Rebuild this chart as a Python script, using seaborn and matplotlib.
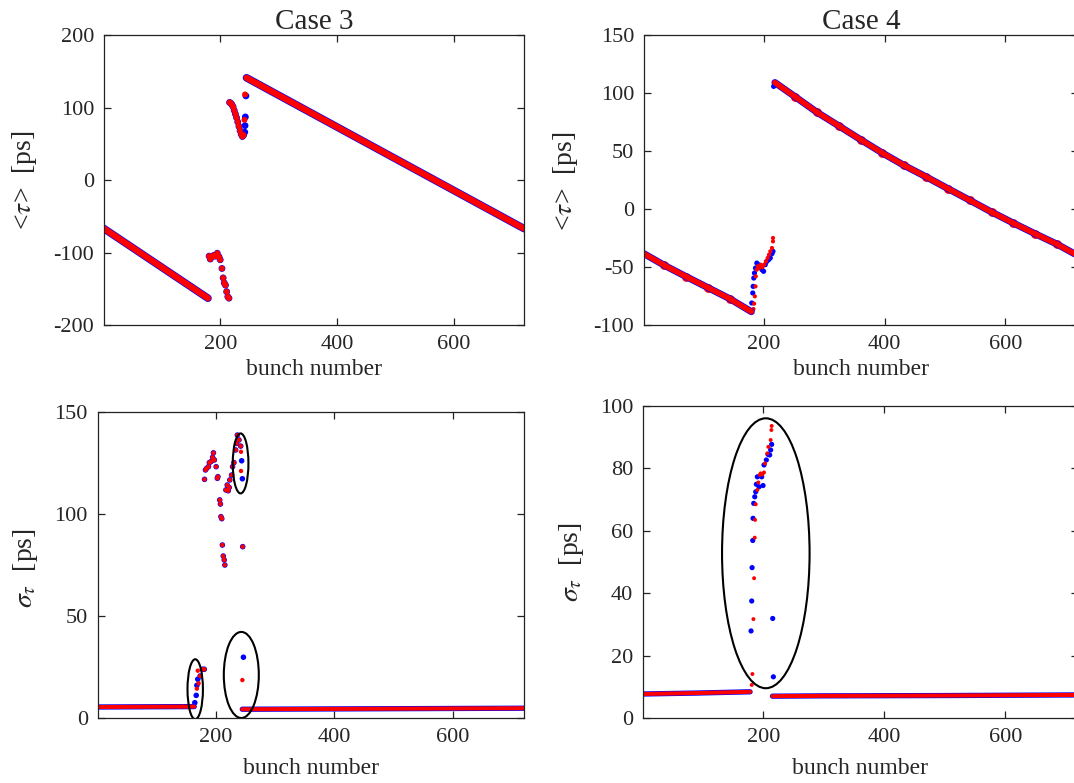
import numpy as np
import pandas as pd
import matplotlib
matplotlib.use("Agg")
import matplotlib.pyplot as plt
from matplotlib.patches import Ellipse
import seaborn as sns

# ---------------- data ----------------
# Case 3, mean bunch position <tau> [ps]
c3_tau_trainA_x = [1, 179]
c3_tau_trainA_blue = [-67, -163]
c3_tau_trainA_red = [-67, -163]
c3_tau_trainB_x = [245, 720]
c3_tau_trainB_blue = [141, -67]
c3_tau_trainB_red = [141, -67]
c3_tau_blue_x = [181, 183, 186, 189, 192, 195, 198, 200, 203, 205, 207, 209, 211, 213, 215,
                 216, 218, 220, 222, 224, 226, 228, 230, 232, 234, 236, 238, 240, 242, 242.5, 243, 244]
c3_tau_blue_y = [-105, -109, -106, -104, -105, -101, -106, -110, -122, -135, -142, -145, -154, -161, -163,
                 107, 106, 104, 101, 96, 91, 86, 80, 74, 68, 63, 60, 62, 66, 75, 87, 116]
c3_tau_red_x = [181, 183, 186, 189, 192, 195, 198, 200, 203, 205, 207, 209, 211, 213, 215,
                216, 218, 220, 222, 224, 226, 228, 230, 232, 234, 236, 238, 240, 241.5, 242.5]
c3_tau_red_y = [-105, -109, -106, -104, -105, -101, -106, -110, -122, -135, -142, -145, -154, -161, -163,
                107, 106, 104, 101, 96, 91, 86, 80, 74, 68, 63, 60, 62, 83, 118]

# Case 4, mean bunch position <tau> [ps]
c4_tau_trainA_x = [1, 35, 71, 107, 143, 179]
c4_tau_trainA_blue = [-38.5, -48.6, -58.3, -67.8, -77.3, -88.5]
c4_tau_trainA_red = [-38.5, -48.6, -58.3, -67.8, -77.3, -88.5]
c4_tau_trainB_x = [218, 252, 288, 325, 360, 396, 432, 469, 505, 541, 577, 613, 649, 685, 720]
c4_tau_trainB_blue = [109, 96.6, 83.3, 71.3, 59.8, 48.3, 37.6, 27.6, 17.5, 7.5, -2.6, -12.1, -21.3, -30.2, -40.2]
c4_tau_trainB_red = [109, 96.6, 83.3, 71.3, 59.8, 48.3, 37.6, 27.6, 17.5, 7.5, -2.6, -12.1, -21.3, -30.2, -40.2]
c4_tau_blue_x = [179.6, 181.3, 181.9, 183, 184.1, 185.8, 188, 190.8, 193.6, 196.4, 199.2, 202, 204.7,
                 207.5, 210.3, 213.1, 214.8, 215.9]
c4_tau_blue_y = [-81, -72.4, -66.7, -59.5, -55.2, -50.9, -46.6, -48, -49.4, -52.3, -53.7, -48, -45.1,
                 -43.7, -42.2, -38.5, -36.5, 105.7]
c4_tau_red_x = [182.4, 183.5, 184.7, 185.8, 186.3, 188, 189.7, 191.9, 194.7, 197.5, 200.3, 203.1, 205.9,
                208.1, 210.3, 213.1, 214.8, 214.8]
c4_tau_red_y = [-86.2, -81.6, -75.3, -66.7, -58, -52.3, -49.4, -50.9, -48, -50, -48, -45.1, -42.2,
                -39.4, -36.5, -33.6, -27.9, -25]

# Case 3, bunch length sigma_tau [ps]
c3_sig_trainA_x = [1, 164]
c3_sig_trainA_blue = [5.4, 5.6]
c3_sig_trainA_red = [5.4, 5.6]
c3_sig_trainB_x = [245, 720]
c3_sig_trainB_blue = [4.3, 4.8]
c3_sig_trainB_red = [4.3, 4.8]
c3_sig_blue_x = [165, 167.4, 168.5, 170, 174, 178, 181,
                 181.4, 183, 185, 188, 189.5, 192.4, 195, 196.4, 198, 201, 203, 204, 207, 208.2, 209,
                 210.5, 211.5, 213, 214.6, 215.7, 217.4, 219.6, 221.3, 223, 224, 227, 228.7, 231,
                 233.8, 235.5, 236.7, 239.5, 242.4, 244, 245.2, 245.8, 247]
c3_sig_blue_y = [7.5, 11.1, 16.0, 19.0, 20.6, 23.9, 23.9,
                 117.0, 121.6, 122.4, 123.2, 125.2, 125.7, 127.8, 130, 126.5, 123.2, 117.5, 118.3,
                 106.9, 104.9, 98.7, 97.7, 84.8, 79.4, 77.5, 75, 111.8, 114.2, 111.4, 113, 116.7,
                 119.1, 123.2, 125.2, 131.4, 134.6, 138.7, 136.3, 133.3, 126.1, 117.3, 84, 29.8]
c3_sig_red_x = [168.5, 170, 171.4, 174, 178, 181,
                181.4, 183, 185, 188, 189.5, 192.4, 195, 196.4, 198, 201, 203, 204, 207, 208.2, 209,
                210.5, 211.5, 213, 214.6, 215.7, 217.4, 219.6, 221.3, 223, 224, 227, 228.7, 231,
                233.8, 235.5, 236.7, 239.5, 242.4, 242.9, 242.9, 245.8, 245.2]
c3_sig_red_y = [14.4, 23.2, 17, 20.6, 23.9, 23.9,
                117.0, 121.6, 122.4, 123.2, 125.2, 125.7, 127.8, 130, 126.5, 123.2, 117.5, 118.3,
                106.9, 104.9, 98.7, 97.7, 84.8, 79.4, 77.5, 75, 111.8, 114.2, 111.4, 113, 116.7,
                119.1, 123.2, 125.2, 131.4, 134.6, 138.7, 136.3, 133.3, 130.5, 121.1, 84, 18.6]

# Case 4, bunch length sigma_tau [ps]
c4_sig_trainA_x = [1, 90, 178]
c4_sig_trainA_blue = [7.7, 8.0, 8.4]
c4_sig_trainA_red = [7.7, 8.0, 8.4]
c4_sig_trainB_x = [215, 300, 500, 720]
c4_sig_trainB_blue = [7.0, 7.1, 7.2, 7.4]
c4_sig_trainB_red = [7.0, 7.1, 7.2, 7.4]
c4_sig_blue_x = [179.6, 180.7, 181.3, 182.4, 182.9, 184, 185.7, 187.3, 188.4, 190, 192.8, 197.2,
                 199.4, 201, 204.9, 207.6, 210.4, 212, 213.7, 215.4, 216.5]
c4_sig_blue_y = [27.9, 37.5, 48.2, 56.9, 64, 68.8, 70.9, 72.5, 74.9, 77.3, 74.1, 77.3,
                 74.5, 81.1, 82.7, 84.5, 84.3, 85.9, 87.7, 31.9, 13.2]
c4_sig_red_x = [180.7, 181.8, 183.5, 184.6, 185.7, 186.2, 187.3, 190, 191.7, 193.9, 195.5, 198.3,
                201, 202.7, 206.5, 208.2, 212, 213.2, 213.7]
c4_sig_red_y = [10.6, 14.1, 31.7, 44.8, 57.8, 63.5, 68.5, 73.1, 75.5, 77.9, 78.4, 78.1,
                78.7, 81.6, 84.8, 86.9, 89.1, 92.3, 93.6]

titles = ["Case 3", "Case 4"]
xticks = [200, 400, 600]

# ---------------- style ----------------
sns.set_style("ticks")
plt.rcParams["font.family"] = ["Liberation Serif", "DejaVu Serif"]
plt.rcParams["mathtext.fontset"] = "stix"
plt.rcParams["font.size"] = 16
plt.rcParams["axes.unicode_minus"] = False
plt.rcParams["axes.edgecolor"] = "#222222"
plt.rcParams["axes.linewidth"] = 0.9

fig = plt.figure(figsize=(10.74, 7.83), dpi=100)

rects = {
    "tl": [0.0968, 0.5849, 0.3911, 0.3704],
    "tr": [0.5996, 0.5849, 0.4040, 0.3704],
    "bl": [0.0908, 0.0830, 0.3971, 0.3908],
    "br": [0.5987, 0.0830, 0.4050, 0.3985],
}
axes = {k: fig.add_axes(v) for k, v in rects.items()}

BLUE = "#0000ff"
RED = "#ff0000"
TITLE_FS = 21
LABEL_FS = 17
YLABEL_FS = 20


def draw_train(ax, x, yb, yr, lw_b, lw_r):
    sns.lineplot(x=x, y=yb, ax=ax, color=BLUE, lw=lw_b, sort=False, estimator=None,
                 solid_capstyle="round", solid_joinstyle="round")
    sns.lineplot(x=x, y=yr, ax=ax, color=RED, lw=lw_r, sort=False, estimator=None,
                 solid_capstyle="round", solid_joinstyle="round")


def draw_points(ax, xb, yb, xr, yr, sb, sr):
    sns.scatterplot(x=xb, y=yb, ax=ax, color=BLUE, s=sb, linewidth=0, edgecolor="none")
    sns.scatterplot(x=xr, y=yr, ax=ax, color=RED, s=sr, linewidth=0, edgecolor="none")


# Case 3 top
ax = axes["tl"]
draw_train(ax, c3_tau_trainA_x, c3_tau_trainA_blue, c3_tau_trainA_red, 5.5, 4.5)
draw_train(ax, c3_tau_trainB_x, c3_tau_trainB_blue, c3_tau_trainB_red, 5.5, 4.5)
draw_points(ax, c3_tau_blue_x, c3_tau_blue_y, c3_tau_red_x, c3_tau_red_y, 24, 18)
ax.set_ylim(-200, 200)
ax.set_yticks([-200, -100, 0, 100, 200])
ax.set_title(titles[0], fontsize=TITLE_FS, pad=4)
ax.set_ylabel("<$\\tau$>  [ps]", fontsize=YLABEL_FS)
ax.yaxis.set_label_coords(-0.155, 0.5)

# Case 4 top
ax = axes["tr"]
draw_train(ax, c4_tau_trainA_x, c4_tau_trainA_blue, c4_tau_trainA_red, 5.0, 4.0)
draw_train(ax, c4_tau_trainB_x, c4_tau_trainB_blue, c4_tau_trainB_red, 5.0, 4.0)
sns.scatterplot(x=c4_tau_trainA_x[1:-1], y=c4_tau_trainA_red[1:-1], ax=ax, color=RED, s=40, linewidth=0)
sns.scatterplot(x=c4_tau_trainB_x[1:-1], y=c4_tau_trainB_red[1:-1], ax=ax, color=RED, s=40, linewidth=0)
draw_points(ax, c4_tau_blue_x, c4_tau_blue_y, c4_tau_red_x, c4_tau_red_y, 14, 9)
ax.set_ylim(-100, 150)
ax.set_yticks([-100, -50, 0, 50, 100, 150])
ax.set_title(titles[1], fontsize=TITLE_FS, pad=4)
ax.set_ylabel("<$\\tau$>  [ps]", fontsize=YLABEL_FS)
ax.yaxis.set_label_coords(-0.148, 0.495)

# Case 3 bottom
ax = axes["bl"]
draw_train(ax, c3_sig_trainA_x, c3_sig_trainA_blue, c3_sig_trainA_red, 3.8, 2.9)
draw_train(ax, c3_sig_trainB_x, c3_sig_trainB_blue, c3_sig_trainB_red, 3.8, 2.9)
draw_points(ax, c3_sig_blue_x, c3_sig_blue_y, c3_sig_red_x, c3_sig_red_y, 16, 10)
for (cx, cy, w, h) in [(165.7, 14.1, 26, 29.4), (243.4, 21.1, 59, 42.2), (242.2, 124.8, 26.4, 29.4)]:
    ax.add_patch(Ellipse((cx, cy), w, h, fill=False, ec="black", lw=1.5, zorder=5))
ax.set_ylim(0, 150)
ax.set_yticks([0, 50, 100, 150])
ax.set_ylabel("$\\sigma_{\\tau}$  [ps]", fontsize=YLABEL_FS)
ax.yaxis.set_label_coords(-0.135, 0.49)

# Case 4 bottom
ax = axes["br"]
draw_train(ax, c4_sig_trainA_x, c4_sig_trainA_blue, c4_sig_trainA_red, 3.8, 2.9)
draw_train(ax, c4_sig_trainB_x, c4_sig_trainB_blue, c4_sig_trainB_red, 3.8, 2.9)
draw_points(ax, c4_sig_blue_x, c4_sig_blue_y, c4_sig_red_x, c4_sig_red_y, 14, 8)
ax.add_patch(Ellipse((204, 52.8), 144.7, 86.5, fill=False, ec="black", lw=1.5, zorder=5))
ax.set_ylim(0, 100)
ax.set_yticks([0, 20, 40, 60, 80, 100])
ax.set_ylabel("$\\sigma_{\\tau}$  [ps]", fontsize=YLABEL_FS)
ax.yaxis.set_label_coords(-0.132, 0.5)

for key, ax in axes.items():
    ax.set_xlim(1, 720)
    ax.set_xticks(xticks)
    ax.set_xlabel("bunch number", fontsize=LABEL_FS)
    ax.tick_params(direction="in", top=True, right=True, length=5, width=0.9,
                   labelsize=16, pad=7, color="#222222")
    for sp in ax.spines.values():
        sp.set_visible(True)
    ax.set_facecolor("white")

axes["tl"].xaxis.set_label_coords(0.5, -0.118)
axes["tr"].xaxis.set_label_coords(0.5, -0.118)
axes["bl"].xaxis.set_label_coords(0.5, -0.13)
axes["br"].xaxis.set_label_coords(0.5, -0.128)

fig.savefig("out.png", dpi=100, facecolor="white")
